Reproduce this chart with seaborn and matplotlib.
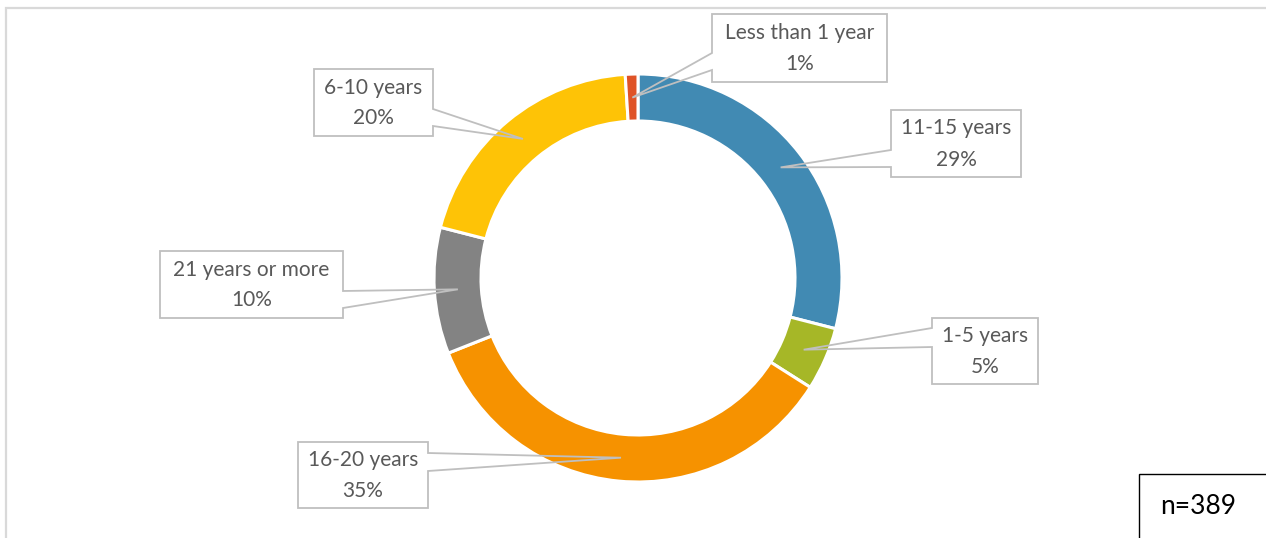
import matplotlib
matplotlib.use("Agg")
import matplotlib.pyplot as plt
from matplotlib.patches import Polygon, Rectangle
import numpy as np
import seaborn as sns

# Years of experience, share of respondents (%)
categories = ["11-15 years", "1-5 years", "16-20 years", "21 years or more",
              "6-10 years", "Less than 1 year"]
shares = [29, 5, 35, 10, 20, 1]
colors = ["#418AB3", "#A6B727", "#F69200", "#838383", "#FEC306", "#DF5327"]
sample_note = "n=389"

# Callout boxes (pixel coordinates): x0, y0, x1, y1, side of the pointer,
# pointer base start/end along that side
callouts = [
    (891, 110, 1021, 177, "left", 150, 167),
    (932, 318, 1038, 384, "left", 328, 347),
    (298, 442, 428, 508, "right", 453, 471),
    (160, 251, 343, 318, "right", 291, 308),
    (314, 69, 433, 136, "right", 109, 126),
    (712, 14, 887, 82, "left", 53, 70),
]

sns.set_theme(style="white")
plt.rcParams["font.family"] = ["Lato", "DejaVu Sans"]

W, H = 1266, 538
fig = plt.figure(figsize=(W / 100, H / 100), dpi=100)
ax = fig.add_axes([0, 0, 1, 1])

cx, cy, R = 638, 278, 204
ring = 47

wedges, _ = ax.pie(
    shares, colors=colors, center=(cx, cy), radius=R,
    startangle=-90, counterclock=True, frame=True,
    wedgeprops=dict(width=ring, edgecolor="white", linewidth=2.2),
)

ax.set_xlim(0, W)
ax.set_ylim(H, 0)
ax.set_aspect("auto")
ax.axis("off")

# Chart area border (left and top edges)
ax.plot([6, 6, W], [H, 8, 8], color="#D9D9D9", lw=1.6,
        solid_joinstyle="miter", solid_capstyle="butt")

# Callouts pointing to the middle of each ring segment
total = sum(shares)
cum = np.cumsum([0] + shares[:-1])
r_mid = R - ring / 2
txt_color = "#595959"
for cat, val, start, (x0, y0, x1, y1, side, b0, b1) in zip(
        categories, shares, cum, callouts):
    frac = (start + val / 2) / total
    ang = 2 * np.pi * frac
    tx = cx + r_mid * np.sin(ang)
    ty = cy - r_mid * np.cos(ang)
    if side == "left":
        pts = [(x0, y0), (x1, y0), (x1, y1), (x0, y1), (x0, b1), (tx, ty), (x0, b0)]
    else:
        pts = [(x0, y0), (x1, y0), (x1, b0), (tx, ty), (x1, b1), (x1, y1), (x0, y1)]
    ax.add_patch(Rectangle((x0, y0), x1 - x0, y1 - y0, facecolor="white",
                           edgecolor="none", zorder=3))
    ax.add_patch(Polygon(pts, closed=True, fill=False, edgecolor="#BFBFBF",
                         lw=1.3, joinstyle="miter", zorder=4))
    xm = (x0 + x1) / 2
    ym = (y0 + y1) / 2
    ax.text(xm, ym - 15, cat, ha="center", va="center", fontsize=15,
            color=txt_color, zorder=5)
    ax.text(xm, ym + 16, f"{val}%", ha="center", va="center", fontsize=15,
            color=txt_color, zorder=5)

# Sample size box (left and top edges; it runs off the canvas)
ax.plot([1139, 1139, W], [H, 474, 474], color="black", lw=1.0,
        solid_joinstyle="miter", solid_capstyle="butt", zorder=4)
ax.text(1198, 506, sample_note, ha="center", va="center", fontsize=19,
        color="black", zorder=5)

fig.savefig("out.png", dpi=100, facecolor="white")
